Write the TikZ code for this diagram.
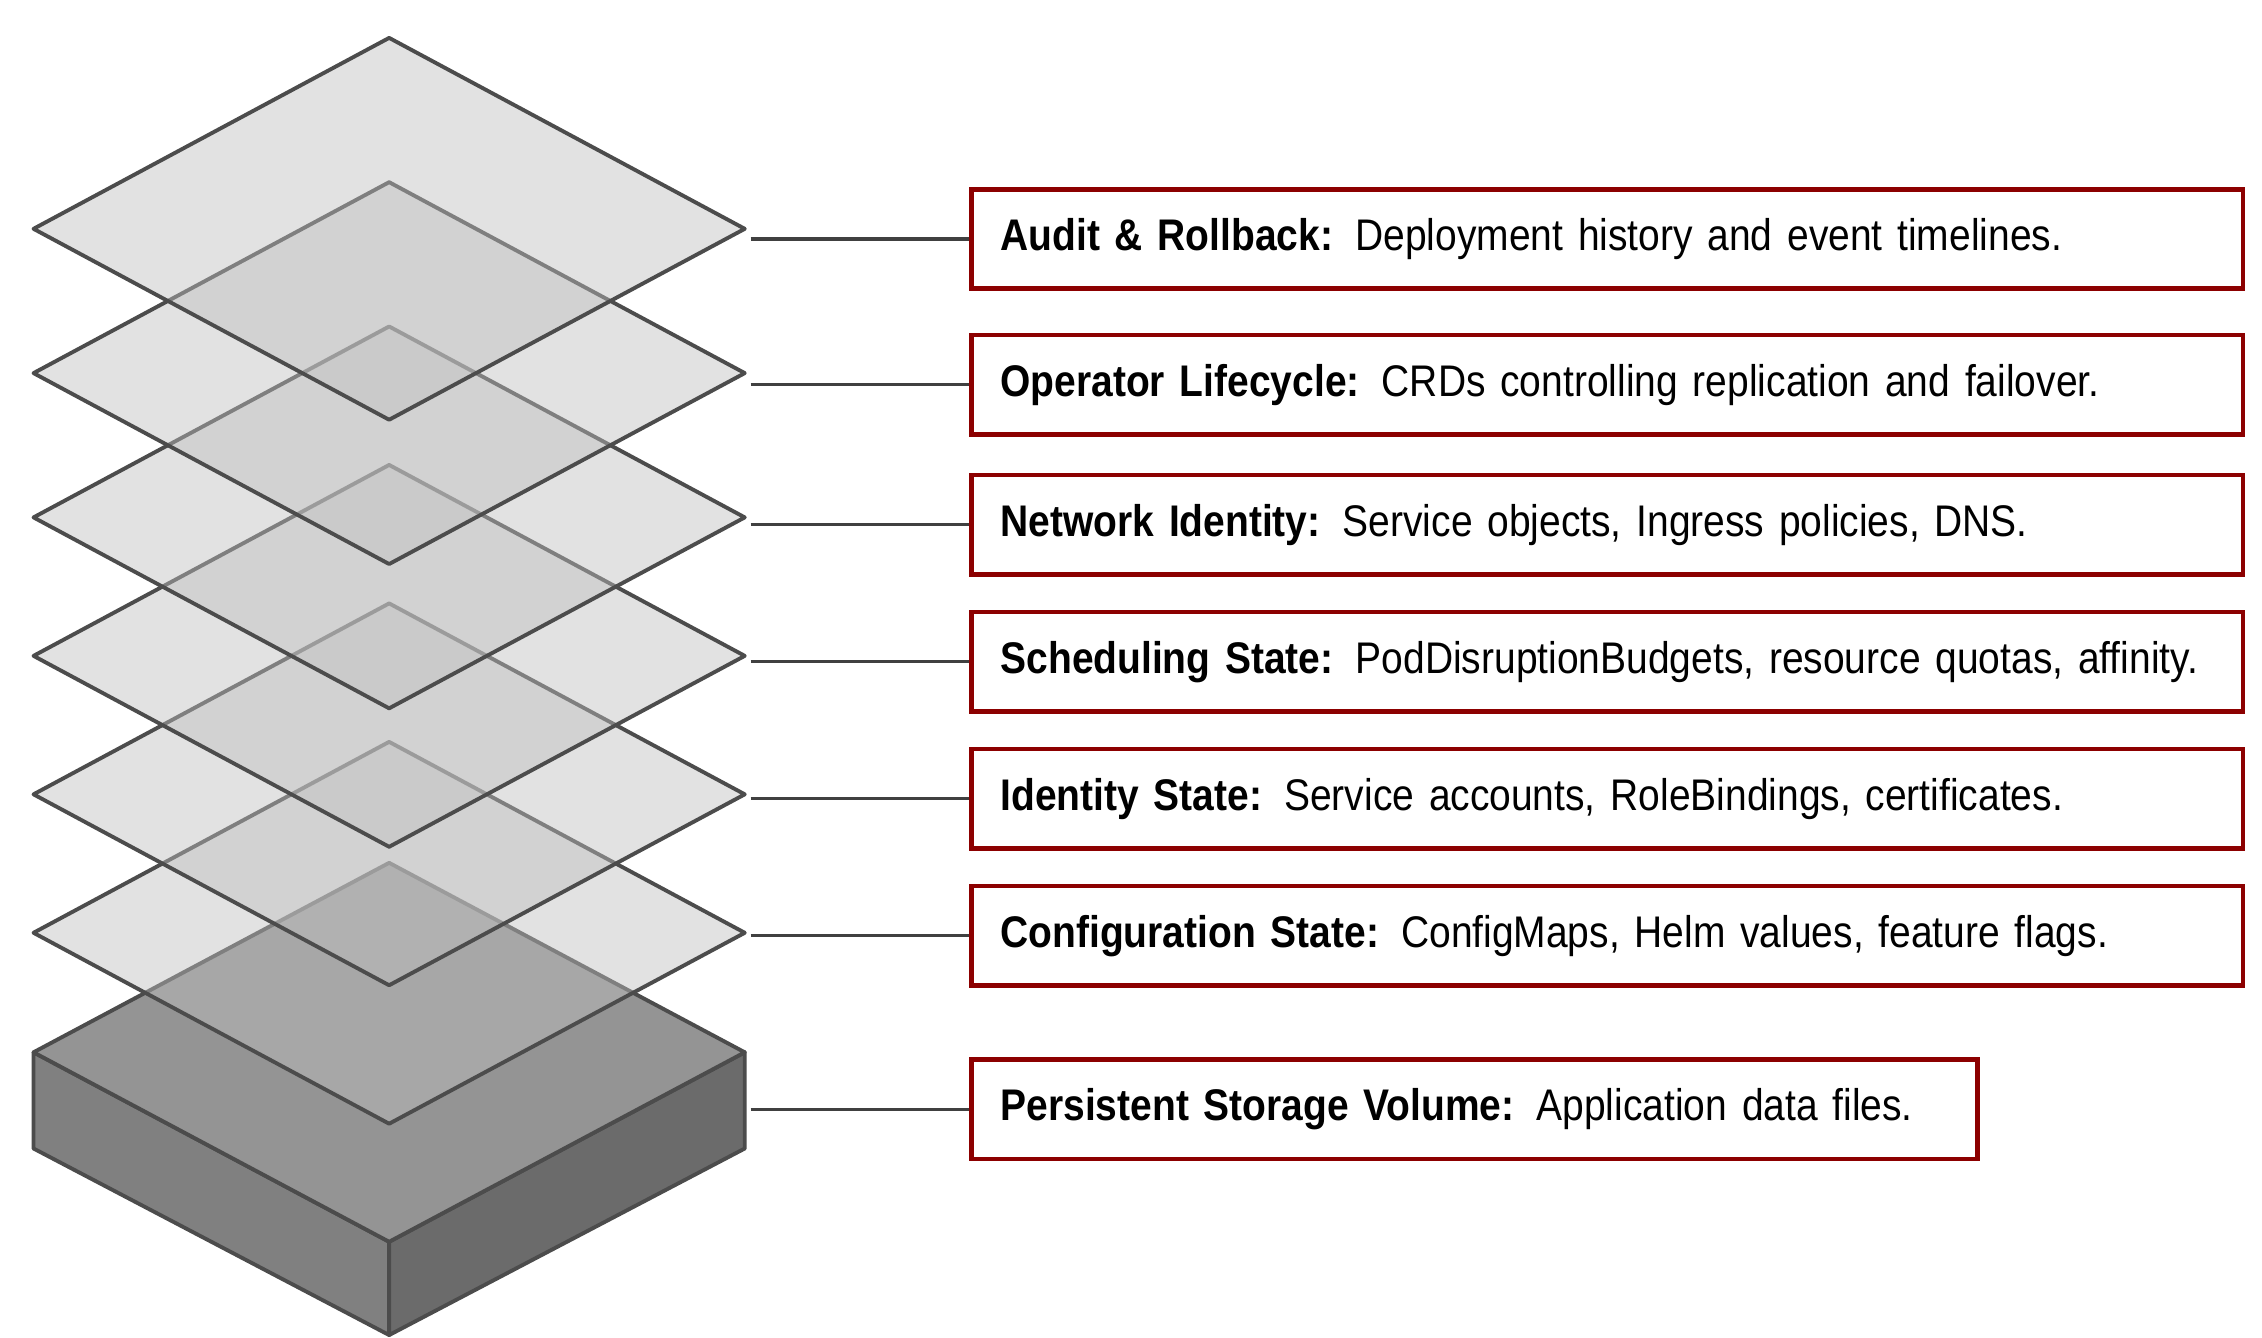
\documentclass[tikz,border=0pt]{standalone}
\usepackage{fontspec}
\setmainfont{Liberation Sans}[FakeStretch=0.88]
\begin{document}
\begin{tikzpicture}[x=0.014575cm, y=-0.014575cm,
	layer/.style={draw=black!70, line width=1.1pt, fill=black!25, fill opacity=0.45, line join=round},
	lbl/.style={draw=red!55!black, line width=1.3pt, fill=white, anchor=west, inner sep=0.29cm,
		minimum height=0.87cm, align=left, font=\fontsize{12.6}{14}\selectfont},
	link/.style={draw=black!75, line width=0.9pt}]
	\useasboundingbox (0, 0) rectangle (1552, 918);
	% storage block
	\draw [line width=1.1pt, draw=black!70, fill=black!50, line join=round] (23, 722) -- (267, 852) -- (267, 916) -- (23, 788) -- cycle;
	\draw [line width=1.1pt, draw=black!70, fill=black!58, line join=round] (511, 722) -- (267, 852) -- (267, 916) -- (511, 788) -- cycle;
	\draw [line width=1.1pt, draw=black!70, fill=black!42, line join=round] (267, 592) -- (511, 722) -- (267, 852) -- (23, 722) -- cycle;
	% state layers, bottom up
	\foreach \y in {640, 545, 450, 355, 256, 157}
		\draw [layer] (267, \y-131) -- (511, \y) -- (267, \y+131) -- (23, \y) -- cycle;
	% labels
	\node [lbl, text width=12.13cm] at (665, 164) (audit) {\textbf{Audit \& Rollback:} Deployment history and event timelines.};
	\node [lbl, text width=12.13cm] at (665, 264) (operator) {\textbf{Operator Lifecycle:} CRDs controlling replication and failover.};
	\node [lbl, text width=12.13cm] at (665, 360) (network) {\textbf{Network Identity:} Service objects, Ingress policies, DNS.};
	\node [lbl, text width=12.13cm] at (665, 454) (sched) {\textbf{Scheduling State:} PodDisruptionBudgets, resource quotas, affinity.};
	\node [lbl, text width=12.13cm] at (665, 548) (ident) {\textbf{Identity State:} Service accounts, RoleBindings, certificates.};
	\node [lbl, text width=12.13cm] at (665, 642) (config) {\textbf{Configuration State:} ConfigMaps, Helm values, feature flags.};
	\node [lbl, text width=9.48cm] at (665, 761) (storage) {\textbf{Persistent Storage Volume:} Application data files.};
	% leader lines
	\foreach \n/\y in {audit/164, operator/264, network/360, sched/454, ident/548, config/642, storage/761} {
		\coordinate (c-\n) at (515, \y);
		\draw [link] (c-\n) -- (\n.west);
	}
\end{tikzpicture}
\end{document}
